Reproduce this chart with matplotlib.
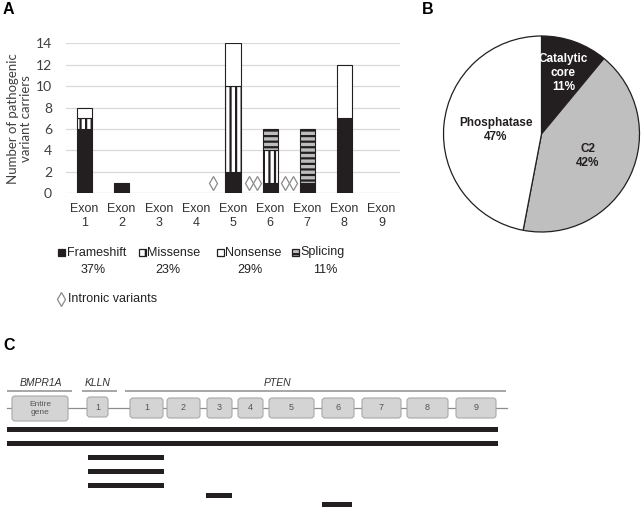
import matplotlib
matplotlib.use("Agg")
import matplotlib.pyplot as plt
from matplotlib.patches import Rectangle, FancyBboxPatch
import numpy as np

plt.rcParams['font.family'] = ['Liberation Sans', 'DejaVu Sans']
plt.rcParams['hatch.linewidth'] = 1.6

# panel A data
exons = ['Exon\n%d' % i for i in range(1, 10)]
frameshift = [6, 1, 0, 0, 2, 1, 1, 7, 0]
missense = [1, 0, 0, 0, 8, 3, 0, 0, 0]
nonsense = [1, 0, 0, 0, 4, 0, 0, 5, 0]
splicing = [0, 0, 0, 0, 0, 2, 5, 0, 0]
type_names = ['Frameshift', 'Missense', 'Nonsense', 'Splicing']
type_pcts = ['37%', '23%', '29%', '11%']
intronic_x = [3.47, 4.42, 4.64, 5.39, 5.62]
intronic_y = [1, 1, 1, 1, 1]

# panel B data
domains = ['Catalytic\ncore', 'C2', 'Phosphatase']
domain_pcts = [11, 42, 47]

# panel C data (diagram units)
genes = ['BMPR1A', 'KLLN', 'PTEN']
gene_spans = [(7, 72), (82, 117), (125, 506)]
gene_label_x = [41, 98, 277]
box_labels = ['Entire\ngene', '1', '1', '2', '3', '4', '5', '6', '7', '8', '9']
box_spans = [(12, 68), (87, 108), (130, 163), (167, 200), (207, 232), (238, 263),
             (269, 314), (322, 354), (362, 401), (407, 448), (456, 496)]
deletions = [(7, 497.7), (7, 497.7), (88, 164), (88, 164), (88, 164), (206, 232), (321.7, 352)]
deletion_rows = [429.5, 443.5, 457.5, 471.5, 485.5, 495.5, 504.5]

W, H = 643, 507
fig = plt.figure(figsize=(W / 100, H / 100), dpi=100)


def box(l, t, r, b):
    return [l / W, 1 - b / H, (r - l) / W, (b - t) / H]


dark = '#231f20'

# ---- A: stacked bars
ax = fig.add_axes(box(66, 43.3, 400, 193.3))
x = np.arange(len(exons))
for v in range(0, 15, 2):
    ax.axhline(v, color='#d9d9d9' if v else '#c8c8c8', lw=0.9, zorder=0)
series = [(frameshift, dark, None), (missense, 'white', '|||'),
          (nonsense, 'white', None), (splicing, '#bdbdbd', '---')]
bottom = np.zeros(len(exons))
for vals, fc, hatch in series:
    vals = np.array(vals, dtype=float)
    m = vals > 0
    ax.bar(x[m], vals[m], 0.41, bottom=bottom[m], color=fc, edgecolor=dark,
           hatch=hatch, lw=0.8, zorder=2)
    bottom += vals
ax.plot(intronic_x, intronic_y, ls='none', marker='d', ms=7, mfc='white',
        mec='#8a8a8a', mew=0.9, zorder=3, clip_on=False)
ax.set_xlim(-0.5, 8.5)
ax.set_ylim(0, 14)
ax.set_yticks(range(0, 15, 2))
ax.set_xticks(x)
ax.set_xticklabels(exons, fontsize=9, color='#333333')
for t in ax.get_yticklabels():
    t.set_fontfamily('Lato')
ax.tick_params(axis='y', length=0, pad=10, labelsize=10, colors='#404040')
ax.tick_params(axis='x', length=0, pad=7)
ax.set_ylabel('Number of pathogenic\nvariant carriers', fontsize=9.5, color='#404040',
              family='Lato', labelpad=3, linespacing=1.1)
for s in ax.spines.values():
    s.set_visible(False)

# ---- B: pie
axb = fig.add_axes(box(443.5, 36, 639.5, 232))
wedges, _ = axb.pie(domain_pcts, colors=[dark, '#bfbfbf', 'white'], startangle=90,
                    counterclock=False, wedgeprops=dict(edgecolor=dark, linewidth=0.9))
for w in wedges:
    w.set_clip_on(False)
axb.set_xlim(-1, 1)
axb.set_ylim(-1, 1)
axb.set_aspect('equal')
axb.axis('off')
label_r = [0.66, 0.52, 0.47]
cum = np.cumsum([0] + domain_pcts)
for i, name in enumerate(domains):
    ang = np.deg2rad(90 - (cum[i] + domain_pcts[i] / 2) * 3.6)
    axb.text(label_r[i] * np.cos(ang), label_r[i] * np.sin(ang),
             '%s\n%d%%' % (name, domain_pcts[i]), ha='center', va='center',
             fontsize=8.5, fontweight='bold', color='white' if i == 0 else dark)

# ---- overlay: panel letters, legend, panel C
ov = fig.add_axes([0, 0, 1, 1])
ov.set_xlim(0, W)
ov.set_ylim(H, 0)
ov.axis('off')
ov.patch.set_alpha(0)

for lab, px, py in [('A', 3, 9), ('B', 422, 9), ('C', 3, 346)]:
    ov.text(px, py, lab, fontsize=11.5, fontweight='bold', va='center', ha='left')

leg_x = [58, 139, 217, 292]
pct_x = [93, 168, 250, 325]
for i, name in enumerate(type_names):
    vals_fc, hatch = series[i][1], series[i][2]
    ov.add_patch(Rectangle((leg_x[i], 249), 6.5, 6.5, facecolor=vals_fc, edgecolor=dark,
                           lw=0.9, hatch='||' if hatch == '|||' else ('--' if hatch else None)))
    ov.text(leg_x[i] + 8.5, 252.5, name, fontsize=9, va='center', ha='left', color='#222222')
    ov.text(pct_x[i], 270, type_pcts[i], fontsize=9, va='center', ha='center', color='#222222')
ov.plot([61], [298.5], ls='none', marker='d', ms=7, mfc='white', mec='#8a8a8a', mew=0.9)
ov.text(68, 298.5, 'Intronic variants', fontsize=9, va='center', ha='left', color='#222222')

# panel C
for g, (a, b), lx in zip(genes, gene_spans, gene_label_x):
    ov.plot([a, b], [390.7, 390.7], color='#a6a6a6', lw=1.4, solid_capstyle='butt')
    ov.text(lx, 383, g, fontsize=7.5, style='italic', ha='center', va='center', color='#333333')
ov.plot([7, 507], [408.3, 408.3], color='#8c8c8c', lw=0.9, zorder=1)
for i, (lab, (a, b)) in enumerate(zip(box_labels, box_spans)):
    if i == 0:
        t, bt = 396, 421
    elif i == 1:
        t, bt = 397, 417
    else:
        t, bt = 398, 418
    ov.add_patch(FancyBboxPatch((a, t), b - a, bt - t, boxstyle='round,pad=0,rounding_size=3',
                                facecolor='#d4d4d4', edgecolor='#a8a8a8', lw=0.8, zorder=2))
    ov.text((a + b) / 2, (t + bt) / 2, lab, fontsize=6.5 if i else 6, ha='center', va='center',
            color='#555555', zorder=3, linespacing=1.3)
for (a, b), yc in zip(deletions, deletion_rows):
    ov.add_patch(Rectangle((a, yc - 2.8), b - a, 5.6, facecolor=dark, edgecolor='none'))

fig.savefig('out.png', dpi=100)
